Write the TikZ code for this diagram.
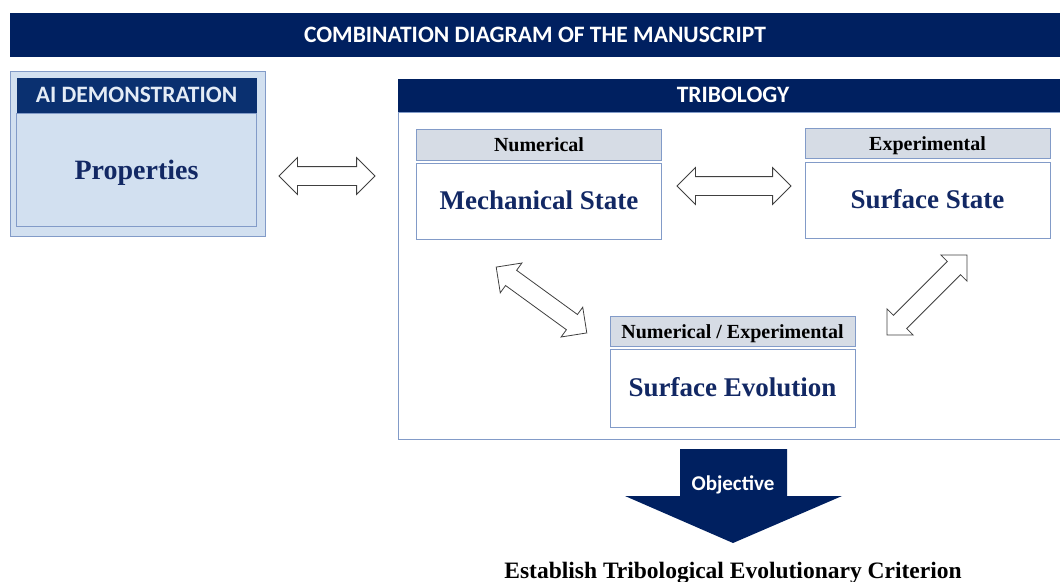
\documentclass[tikz,border=0pt]{standalone}
\usepackage{fontspec}
\setmainfont{Liberation Serif}
\newfontfamily\calibri{Carlito}
\usetikzlibrary{positioning, shapes.arrows}

\definecolor{navy}{RGB}{0,32,96}
\definecolor{ainavy}{RGB}{10,48,112}
\definecolor{paleblue}{RGB}{210,224,240}
\definecolor{headgray}{RGB}{214,220,229}
\definecolor{rimblue}{RGB}{130,155,200}
\definecolor{inkblue}{RGB}{18,40,100}

\tikzset{
bar/.style={fill=navy, text=white, font=\calibri\bfseries\fontsize{23.5}{25}\selectfont, inner sep=0pt, text height=15pt, text depth=1pt}, % dark title strips
headbox/.style={draw=rimblue, fill=headgray, line width=1pt, minimum width=245pt, minimum height=30pt, inner sep=0pt, text height=16pt, text depth=2pt, font=\bfseries\fontsize{20}{22}\selectfont}, % small grey caption
bodybox/.style={draw=rimblue, fill=white, line width=1pt, minimum width=245pt, minimum height=77pt, inner sep=0pt, text height=18pt, text depth=1pt, text=inkblue, font=\bfseries\fontsize{27}{30}\selectfont}, % state box
fatarrow/.style={double arrow, draw=black!75, fill=white, line width=0.8pt, inner sep=9pt, double arrow head extend=9pt, double arrow tip angle=90}, % two-way link
}

\begin{document}
\begin{tikzpicture}[x=1pt, y=-1pt]
    \useasboundingbox (0,0) rectangle (1060,581);

    % title
    \node[bar, minimum width=1050pt, minimum height=44pt] (title) at (535,35) {COMBINATION DIAGRAM OF THE MANUSCRIPT};

    % ai block
    \node[draw=rimblue, fill=paleblue, line width=1pt, minimum width=255pt, minimum height=165pt] (aiframe) at (137.5,153.5) {};
    \node[bar, fill=ainavy, text=paleblue!60, minimum width=240pt, minimum height=35pt] (aihead) at (136.5,95.5) {AI DEMONSTRATION};
    \node[draw=rimblue, fill=paleblue, line width=1pt, minimum width=240pt, minimum height=113pt, below=0pt of aihead, text=inkblue, text height=18pt, text depth=0pt, font=\bfseries\fontsize{28}{30}\selectfont] (props) {Properties};

    % tribology block
    \node[bar, minimum width=670pt, minimum height=33pt] (tribhead) at (733,95.5) {TRIBOLOGY};
    \node[draw=rimblue, line width=1pt, minimum width=670pt, minimum height=327pt, below=0pt of tribhead] (trib) {};

    \node[headbox, minimum height=31pt] (mechhead) at (539,144.5) {Numerical};
    \node[bodybox, below=2pt of mechhead, minimum height=76pt] (mech) {Mechanical State};
    \node[headbox] (surfhead) at (927.5,143) {Experimental};
    \node[bodybox, below=3pt of surfhead, minimum height=76pt] (surf) {Surface State};
    \node[headbox] (evolhead) at (732.5,331) {Numerical / Experimental};
    \node[bodybox, below=2pt of evolhead, minimum height=78pt] (evol) {Surface Evolution};

    % links
    \node[fatarrow, minimum height=96pt] (aitrib) at (327,176) {};
    \node[fatarrow, minimum height=114pt] (mechsurf) at (734,186) {};
    \node[fatarrow, minimum height=112pt, rotate=-36] (mechevol) at (541.5,300) {};
    \node[fatarrow, minimum height=113pt, rotate=45] (evolsurf) at (927,295) {};

    % objective
    \fill[navy] (680,449) -- (787,449) -- (787,496) -- (842,496) -- (733,543) -- (625,496) -- (680,496) -- cycle;
    \node[text=white, font=\calibri\bfseries\fontsize{21}{23}\selectfont] (obj) at (733,485) {Objective};
    \node[anchor=base, font=\bfseries\fontsize{23.5}{26}\selectfont] (crit) at (733,578) {Establish Tribological Evolutionary Criterion};
\end{tikzpicture}
\end{document}
